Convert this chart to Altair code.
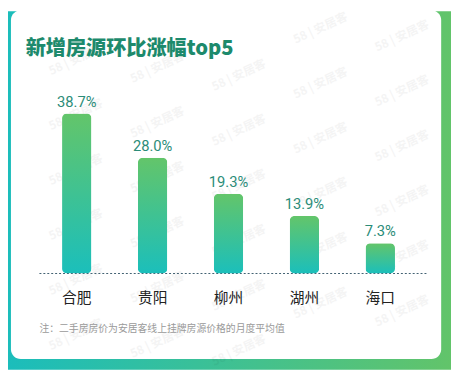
import altair as alt
import pandas as pd

cities = ["合肥", "贵阳", "柳州", "湖州", "海口"]
growth = [38.7, 28.0, 19.3, 13.9, 7.3]
labels = ["38.7%", "28.0%", "19.3%", "13.9%", "7.3%"]

title_text = "新增房源环比涨幅top5"
note_text = "注：二手房房价为安居客线上挂牌房源价格的月度平均值"
watermark_text = "58 | 安居客"

df = pd.DataFrame({"city": cities, "growth": growth, "label": labels})

W, H = 451, 365
xs = alt.Scale(domain=cities, range=[31.4, 417.6], paddingInner=0, paddingOuter=0)
ys = alt.Scale(domain=[0, 63.42], range=[267, 0], nice=False, zero=False)

one = alt.Data(values=[{"a": 1}])

# decorative watermark tiling (screen decoration, not data), kept inside the card
wm_rows = []
for ci in range(-1, 6):
    for ri in range(-1, 7):
        wx = 50 + 83 * ci + 19
        wy = 7 + 8 * ci + 56 * ri - 14
        if 38 <= wx <= 410 and 16 <= wy <= 345:
            wm_rows.append({"wx": wx, "wy": wy})
wm_df = pd.DataFrame(wm_rows)

bg = alt.Chart(one).mark_rect(
    color=alt.Gradient(gradient="linear",
                       stops=[alt.GradientStop(color="#1bbdbb", offset=0),
                              alt.GradientStop(color="#62c46a", offset=1)],
                       x1=0, x2=1, y1=0, y2=0)
).encode(x=alt.value(0), x2=alt.value(W), y=alt.value(0), y2=alt.value(H))

card = alt.Chart(one).mark_rect(color="white", cornerRadius=10).encode(
    x=alt.value(3), x2=alt.value(441), y=alt.value(-1), y2=alt.value(354))

wm = alt.Chart(wm_df).mark_text(
    text=watermark_text, angle=335, fontSize=12, font="Noto Sans CJK SC",
    fontWeight="bold", color="#000000", opacity=0.04, baseline="middle"
).encode(x=alt.X("wx:Q", scale=None), y=alt.Y("wy:Q", scale=None))

title = alt.Chart(one).mark_text(
    text=title_text, align="left", baseline="middle", fontSize=20.5,
    font="Noto Sans CJK SC", fontWeight=900, color="#1d8a6c"
).encode(x=alt.value(18), y=alt.value(39))

note = alt.Chart(one).mark_text(
    text=note_text, align="left", baseline="middle", fontSize=10,
    font="Noto Sans CJK SC", color="#9a9a9a"
).encode(x=alt.value(32), y=alt.value(324))

base = alt.Chart(df)

bars = base.mark_bar(
    width=30, cornerRadius=5,
    color=alt.Gradient(gradient="linear",
                       stops=[alt.GradientStop(color="#63c56a", offset=0),
                              alt.GradientStop(color="#1bbfbb", offset=1)],
                       x1=0, x2=0, y1=0, y2=1)
).encode(x=alt.X("city:N", scale=xs, axis=None, sort=cities),
         y=alt.Y("growth:Q", scale=ys, axis=None))

vals = base.mark_text(
    baseline="alphabetic", dy=-7, fontSize=15, font="Roboto", color="#2b8c78"
).encode(x=alt.X("city:N", scale=xs, axis=None, sort=cities),
         y=alt.Y("growth:Q", scale=ys, axis=None),
         text="label:N")

cats = base.mark_text(
    baseline="middle", fontSize=15, font="Noto Sans CJK SC", fontWeight=400,
    color="#222222"
).encode(x=alt.X("city:N", scale=xs, axis=None, sort=cities),
         y=alt.value(292), text="city:N")

rule = alt.Chart(one).mark_rule(color="#3f5f70", strokeDash=[2, 2], strokeWidth=1).encode(
    x=alt.value(32), x2=alt.value(427), y=alt.value(267))

chart = alt.layer(bg, card, wm, title, note, rule, bars, vals, cats).properties(
    width=W, height=H, padding=0, autosize=alt.AutoSizeParams(type="none")
).configure_view(stroke=None)

chart.save("out.html", embed_options={"renderer": "svg", "actions": False})
